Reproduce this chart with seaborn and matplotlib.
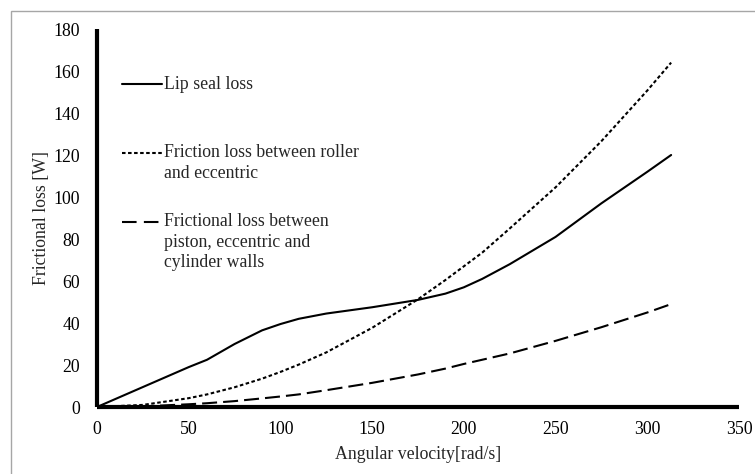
import matplotlib
matplotlib.use("Agg")
import matplotlib.pyplot as plt
from matplotlib.lines import Line2D
from matplotlib.patches import Rectangle
import seaborn as sns
import pandas as pd

# Angular velocity [rad/s]
omega = [0, 25, 50, 60, 75, 90, 100, 110, 125, 150, 175, 190, 200, 210,
         225, 250, 275, 300, 313]
# Frictional loss components [W]
lip_seal = [0, 9.5, 19, 22.5, 30, 36.5, 39.5, 42, 44.5, 47.5, 51, 54, 57,
            61, 68, 81, 97, 112, 120]
roller_eccentric = [0, 1, 4.2, 6, 9.4, 13.5, 16.7, 20.2, 26, 37.7, 51.3,
                    60.5, 67, 73.5, 85, 104.6, 126.6, 150.7, 164]
piston_cylinder = [0, 0.3, 1.3, 1.8, 2.8, 4.1, 5, 6, 8, 11.5, 15.5, 18.3,
                   20.5, 22.5, 25.5, 31.5, 38, 45, 49]

labels = ["Lip seal loss",
          "Friction loss between roller\nand eccentric",
          "Frictional loss between\npiston, eccentric and\ncylinder walls"]

df = pd.DataFrame({
    "omega": omega * 3,
    "loss": lip_seal + roller_eccentric + piston_cylinder,
    "series": [labels[0]] * len(omega) + [labels[1]] * len(omega)
              + [labels[2]] * len(omega),
})

sns.set_style("white")
plt.rcParams["font.family"] = ["Liberation Serif", "DejaVu Serif"]
FS = 12.8

fig = plt.figure(figsize=(7.55, 4.74), dpi=100)
ax = fig.add_axes([97 / 755, 67 / 474, 642 / 755, 378 / 474])

styles = [(None, "-"), ((1.7, 1.2), "--"), ((7.2, 2.9), "--")]
for lab, (dash, ls) in zip(labels, styles):
    sub = df[df["series"] == lab]
    line = sns.lineplot(data=sub, x="omega", y="loss", ax=ax, color="black",
                        linewidth=1.5, linestyle=ls, legend=False).lines[-1]
    if dash is not None:
        line.set_dashes(dash)

ax.set_xlim(0, 350)
ax.set_ylim(0, 180)
ax.set_xticks(range(0, 351, 50))
ax.set_yticks(range(0, 181, 20))
ax.tick_params(axis="both", length=0, labelsize=FS, colors="black")
ax.tick_params(axis="x", pad=10)
ax.tick_params(axis="y", pad=12)
for side in ["top", "right"]:
    ax.spines[side].set_visible(False)
for side in ["left", "bottom"]:
    ax.spines[side].set_linewidth(3)
    ax.spines[side].set_color("black")
    ax.spines[side].set_capstyle("butt")

ax.set_xlabel("Angular velocity[rad/s]", fontsize=FS, labelpad=6)
ax.set_ylabel("Frictional loss [W]", fontsize=FS, labelpad=3)

# Legend entries: handle beside the first line of each label
entry_y = [0.854, 0.672, 0.489]
handle_dashes = [None, (1.7, 1.2), (7.0, 3.5)]
line_pitch = 20 / 378
for lab, y, dash in zip(labels, entry_y, handle_dashes):
    h = Line2D([0.039, 0.101], [y, y], transform=ax.transAxes,
               color="black", linewidth=1.5)
    if dash is not None:
        h.set_dashes(dash)
    ax.add_line(h)
    n_extra = lab.count("\n")
    # baseline alignment refers to the last line of a multi-line label
    ax.text(0.104, y - 0.013 - n_extra * line_pitch, lab,
            transform=ax.transAxes, fontsize=FS,
            va="baseline", ha="left", linespacing=1.27)

# Outer chart frame
fig.add_artist(Rectangle((11 / 755, -0.1), 1.2, 1 - 11 / 474 + 0.1,
                         transform=fig.transFigure, fill=False,
                         edgecolor="#a6a6a6", linewidth=1))

fig.savefig("out.png", dpi=100)
